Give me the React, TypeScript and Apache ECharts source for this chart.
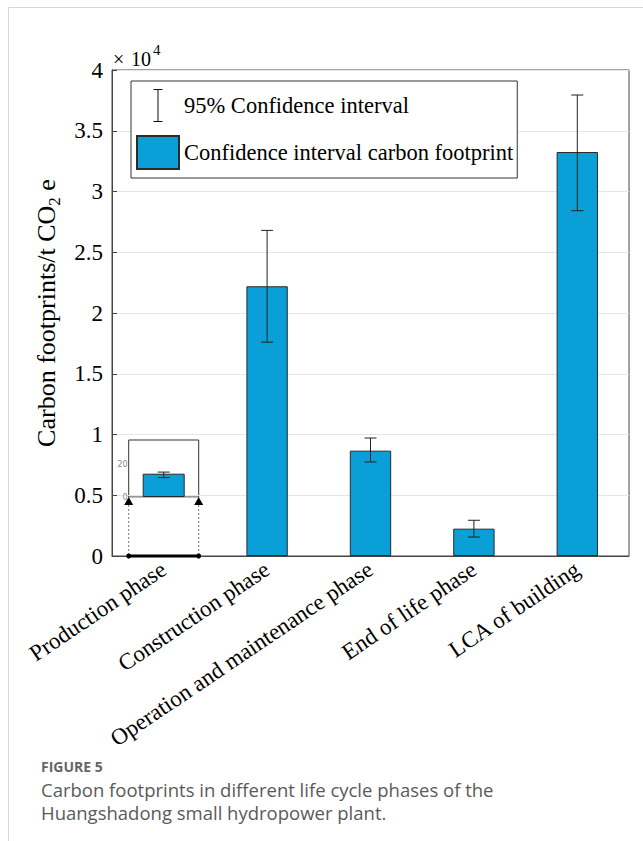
import React, { useEffect, useRef } from "react";
import * as echarts from "echarts";

const categories = [
  "Production phase",
  "Construction phase",
  "Operation and maintenance phase",
  "End of life phase",
  "LCA of building",
];
const footprint = [14.3, 22200, 8670, 2250, 33250];
const ciLower = [11.9, 17600, 7740, 1560, 28420];
const ciUpper = [15.3, 26800, 9710, 2940, 37940];
const yTicks = { min: 0, max: 40000, interval: 5000 };
const insetTicks = { min: 0, max: 35, interval: 20 };

const SERIF = "Liberation Serif";
const BAR_COLOR = "#0aa0d7";
const GRID = { left: 112, top: 70, width: 517, height: 486 };
const INSET_W = 70;
const INSET = {
  left: GRID.left + GRID.width / categories.length / 2 - INSET_W / 2,
  top: 440,
  width: INSET_W,
  height: 57,
};

export default function App() {
  const ref = useRef<HTMLDivElement>(null);
  useEffect(() => {
    if (!ref.current) return;
    const chart = echarts.init(ref.current, undefined, { renderer: "svg" });

    const errRender = (params: any, api: any) => {
      const x = api.value(0);
      const pLo = api.coord([x, api.value(1)]);
      const pHi = api.coord([x, api.value(2)]);
      const cap = 6;
      const st = { stroke: "#222", lineWidth: 1 };
      return {
        type: "group",
        children: [
          { type: "line", shape: { x1: pLo[0], y1: pLo[1], x2: pHi[0], y2: pHi[1] }, style: st },
          { type: "line", shape: { x1: pHi[0] - cap, y1: pHi[1], x2: pHi[0] + cap, y2: pHi[1] }, style: st },
          { type: "line", shape: { x1: pLo[0] - cap, y1: pLo[1], x2: pLo[0] + cap, y2: pLo[1] }, style: st },
        ],
      };
    };

    const zoomRender = (params: any, api: any) => {
      const c = api.coord([api.value(0), 0]);
      const half = INSET_W / 2;
      const xl = c[0] - half;
      const xr = c[0] + half;
      const yb = c[1];
      const apex = INSET.top + INSET.height;
      const base = apex + 8;
      const dot = { stroke: "#777", lineWidth: 1, lineDash: [2, 2] };
      return {
        type: "group",
        children: [
          { type: "line", shape: { x1: xl, y1: base, x2: xl, y2: yb }, style: dot },
          { type: "line", shape: { x1: xr, y1: base, x2: xr, y2: yb }, style: dot },
          { type: "line", shape: { x1: xl, y1: yb, x2: xr, y2: yb }, style: { stroke: "#000", lineWidth: 3 } },
          { type: "circle", shape: { cx: xl, cy: yb, r: 2.5 }, style: { fill: "#000" } },
          { type: "circle", shape: { cx: xr, cy: yb, r: 2.5 }, style: { fill: "#000" } },
          { type: "polygon", shape: { points: [[xl - 4.5, base], [xl + 4.5, base], [xl, apex]] }, style: { fill: "#000" } },
          { type: "polygon", shape: { points: [[xr - 4.5, base], [xr + 4.5, base], [xr, apex]] }, style: { fill: "#000" } },
        ],
      };
    };

    const option: any = {
      animation: false,
      textStyle: { fontFamily: SERIF },
      grid: [
        { ...GRID, show: true, borderColor: "#444", borderWidth: 1, containLabel: false },
        { ...INSET, show: true, borderColor: "#333", borderWidth: 1, backgroundColor: "#fff", containLabel: false },
      ],
      legend: {
        orient: "vertical",
        left: 131,
        top: 81,
        padding: [8, 4, 8, 5],
        itemGap: 13,
        itemWidth: 42,
        itemHeight: 33,
        borderColor: "#333",
        borderWidth: 1,
        backgroundColor: "#fff",
        selectedMode: false,
        textStyle: { fontFamily: SERIF, fontSize: 22.5, color: "#000" },
        data: [
          { name: "95% Confidence interval", icon: "path://M0,0h9v1h-9z M4,0h1v33h-1z M0,32h9v1h-9z" },
          { name: "Confidence interval carbon footprint", icon: "rect" },
        ],
      },
      xAxis: [
        {
          type: "category",
          gridIndex: 0,
          data: categories,
          axisLine: { lineStyle: { color: "#444" } },
          axisTick: { alignWithLabel: true, inside: true, length: 5, lineStyle: { color: "#666" } },
          axisLabel: { rotate: 34, interval: 0, fontSize: 23, color: "#000", fontFamily: SERIF, margin: 11 },
        },
        {
          type: "category",
          gridIndex: 1,
          data: [categories[0]],
          axisLine: { lineStyle: { color: "#bbb" } },
          axisTick: { show: false },
          axisLabel: { show: false },
        },
      ],
      yAxis: [
        {
          type: "value",
          gridIndex: 0,
          ...yTicks,
          name: "{m|Carbon footprints/t CO}{s|2}{m| e}",
          nameLocation: "middle",
          nameGap: 46,
          nameTextStyle: {
            rich: {
              m: { fontSize: 26, fontFamily: SERIF, color: "#000", lineHeight: 34 },
              s: { fontSize: 17, fontFamily: SERIF, color: "#000", lineHeight: 17, verticalAlign: "bottom" },
            },
          },
          axisLine: { show: true, lineStyle: { color: "#444" } },
          axisTick: { show: true, inside: true, length: 5, lineStyle: { color: "#444" } },
          splitLine: { lineStyle: { color: "#e6e6e6" } },
          axisLabel: {
            fontSize: 23,
            color: "#000",
            fontFamily: SERIF,
            margin: 9,
            formatter: (v: number) => String(v / 10000),
          },
        },
        {
          type: "value",
          gridIndex: 1,
          ...insetTicks,
          axisLine: { show: false },
          axisTick: { show: false },
          splitLine: { show: false },
          axisLabel: {
            fontSize: 8,
            color: "#888",
            fontFamily: "DejaVu Sans",
            margin: 1,
            showMaxLabel: false,
          },
        },
      ],
      series: [
        {
          name: "Confidence interval carbon footprint",
          type: "bar",
          xAxisIndex: 0,
          yAxisIndex: 0,
          barWidth: "40%",
          itemStyle: { color: BAR_COLOR, borderColor: "#2a2a2a", borderWidth: 1 },
          data: footprint,
        },
        {
          name: "95% Confidence interval",
          type: "custom",
          xAxisIndex: 0,
          yAxisIndex: 0,
          itemStyle: { color: "#111" },
          renderItem: errRender,
          data: categories.map((_, i) => [i, ciLower[i], ciUpper[i]]),
          z: 5,
        },
        {
          name: "zoom",
          type: "custom",
          xAxisIndex: 0,
          yAxisIndex: 0,
          silent: true,
          renderItem: zoomRender,
          data: [[0]],
          z: 6,
        },
        {
          name: "inset bar",
          type: "bar",
          xAxisIndex: 1,
          yAxisIndex: 1,
          barWidth: 42,
          itemStyle: { color: BAR_COLOR, borderColor: "#2a2a2a", borderWidth: 1 },
          data: [footprint[0]],
          z: 7,
        },
        {
          name: "inset error",
          type: "custom",
          xAxisIndex: 1,
          yAxisIndex: 1,
          renderItem: errRender,
          data: [[0, ciLower[0], ciUpper[0]]],
          z: 8,
        },
      ],
      graphic: [
        { type: "line", shape: { x1: 8.5, y1: 7.5, x2: 643, y2: 7.5 }, style: { stroke: "#d8d8d8", lineWidth: 1 } },
        { type: "line", shape: { x1: 8.5, y1: 7.5, x2: 8.5, y2: 841 }, style: { stroke: "#d8d8d8", lineWidth: 1 } },
        {
          type: "text",
          x: 113,
          y: 69,
          style: { text: "×", fontSize: 20, fontFamily: SERIF, fill: "#000", verticalAlign: "bottom" },
        },
        {
          type: "text",
          x: 131,
          y: 69,
          style: { text: "10", fontSize: 20, fontFamily: SERIF, fill: "#000", verticalAlign: "bottom" },
        },
        {
          type: "text",
          x: 153,
          y: 42,
          style: { text: "4", fontSize: 15, fontFamily: SERIF, fill: "#000", verticalAlign: "top" },
        },
        {
          type: "text",
          x: 41,
          y: 766,
          style: {
            text: "FIGURE 5",
            fontSize: 14,
            lineHeight: 14,
            fontWeight: "bold",
            fontFamily: "Open Sans",
            fill: "#666",
            verticalAlign: "middle",
          },
        },
        {
          type: "text",
          x: 41,
          y: 789,
          style: {
            text: "Carbon footprints in different life cycle phases of the",
            fontSize: 18.5,
            lineHeight: 19,
            fontFamily: "Open Sans",
            fill: "#5a5a5a",
            verticalAlign: "middle",
          },
        },
        {
          type: "text",
          x: 41,
          y: 812,
          style: {
            text: "Huangshadong small hydropower plant.",
            fontSize: 18.5,
            lineHeight: 19,
            fontFamily: "Open Sans",
            fill: "#5a5a5a",
            verticalAlign: "middle",
          },
        },
      ],
    };
    chart.setOption(option);
    return () => chart.dispose();
  }, []);
  return (
    <div
      ref={ref}
      style={{ position: "absolute", left: 0, top: 0, width: 643, height: 841, background: "#fff" }}
    />
  );
}
